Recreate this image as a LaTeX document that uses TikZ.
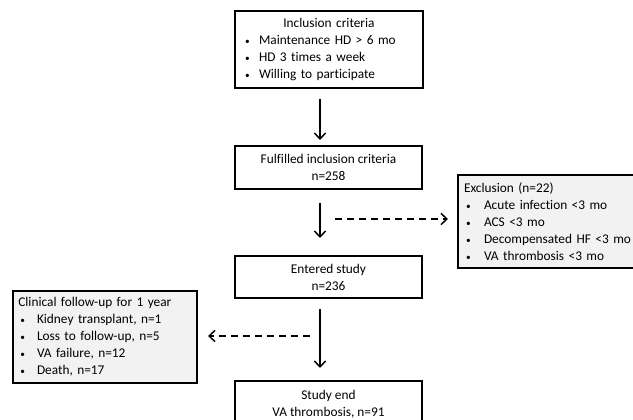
\documentclass[tikz,border=0pt]{standalone}
\usepackage{fontspec}
\setmainfont{Carlito}[Ligatures=NoCommon]
\usetikzlibrary{arrows.meta}
\definecolor{boxgray}{HTML}{F2F2F2}
\newcommand\bul[1]{\makebox[#1][l]{\hspace{1.5pt}{\fontsize{7}{7}\selectfont•}}}
\begin{document}
\begin{tikzpicture}[
   x=0.75pt,y=-0.75pt,
   font=\fontsize{10}{12.75}\selectfont,
   box/.style={draw,line width=1.5pt,anchor=north west,inner xsep=4.5pt,inner ysep=0pt},
   step box/.style={box,align=center,minimum width=140.25pt},
   list box/.style={box,fill=boxgray},
   flow/.style={-{Straight Barb[length=4.5pt,width=8.5pt]},line width=1.1pt},
   side/.style={flow,dash pattern=on 5.5pt off 3.5pt}]
\useasboundingbox (0,0) rectangle (633,420);
\clip (0,0) rectangle (633,420);
\coordinate (axis) at (320,0);
\node[box,minimum width=141pt,minimum height=57.75pt,text width=129pt,inner xsep=6pt] (incl) at (234,10)
  {{\centering Inclusion criteria\par}
   \bul{12pt}Maintenance HD > 6 mo\par
   \bul{12pt}HD 3 times a week\par
   \bul{12pt}Willing to participate\par};
\node[step box,minimum height=32.25pt] (ful) at (234,145) {Fulfilled inclusion criteria\\n=258};
\node[step box,minimum height=31.5pt] (ent) at (234,255) {Entered study\\n=236};
\node[step box,minimum height=35pt] (end) at (234,380) {Study end\\VA thrombosis, n=91};
\node[list box,minimum height=69.75pt,text width=150pt] (excl) at (457,174)
  {Exclusion (n=22)\par
   \bul{15pt}Acute infection <3 mo\par
   \bul{15pt}ACS <3 mo\par
   \bul{15pt}Decompensated HF <3 mo\par
   \bul{15pt}VA thrombosis <3 mo\par};
\node[list box,minimum width=138pt,minimum height=69pt,text width=130pt,inner xsep=4pt] (clin) at (12,290)
  {Clinical follow-up for 1 year\par
   \bul{14pt}Kidney transplant, n=1\par
   \bul{14pt}Loss to follow-up, n=5\par
   \bul{14pt}VA failure, n=12\par
   \bul{14pt}Death, n=17\par};
\coordinate (ex0) at (335,219);
\coordinate (cf0) at (310,336);
\draw[flow,shorten <=7.5pt,shorten >=3.75pt] (incl.south -| axis) -- (ful.north -| axis);
\draw[flow,shorten <=9.75pt,shorten >=12.75pt] (ful.south -| axis) -- (ent.north -| axis);
\draw[flow,shorten <=7.5pt,shorten >=9pt] (ent.south -| axis) -- (end.north -| axis);
\draw[side,shorten >=6.75pt] (ex0) -- (excl.west |- ex0);
\draw[side,shorten >=7.5pt] (cf0) -- (clin.east |- cf0);
\end{tikzpicture}
\end{document}
